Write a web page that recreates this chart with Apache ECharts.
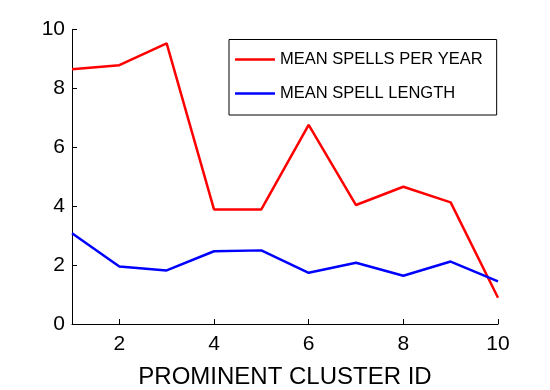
<!DOCTYPE html>
<html>
<head>
<meta charset="utf-8">
<script src="https://cdn.jsdelivr.net/npm/echarts@6/dist/echarts.min.js"></script>
<style>html,body{margin:0;padding:0;background:#fff;}#c{width:550px;height:390px;}</style>
</head>
<body>
<div id="c"></div>
<script>
var clusterIds = [1, 2, 3, 4, 5, 6, 7, 8, 9, 10];
var spellsPerYear = [8.65, 8.79, 9.53, 3.89, 3.89, 6.76, 4.04, 4.66, 4.13, 0.89];
var spellLength = [3.08, 1.95, 1.82, 2.47, 2.50, 1.74, 2.08, 1.64, 2.12, 1.45];
var xTickValues = [2, 4, 6, 8, 10];
var seriesNames = ['MEAN SPELLS PER YEAR', 'MEAN SPELL LENGTH'];
var xAxisTitle = 'PROMINENT CLUSTER ID';

var font = 'Liberation Sans, Arial, Helvetica, sans-serif';
function pairs(ys) { return clusterIds.map(function (x, i) { return [x, ys[i]]; }); }
var lineIcon = 'path://M0,0 L40,0 L40,2.5 L0,2.5 Z';

var chart = echarts.init(document.getElementById('c'), null, { renderer: 'canvas' });
chart.setOption({
  animation: false,
  backgroundColor: '#fff',
  grid: { left: 72, right: 52, top: 29.5, bottom: 66, containLabel: false, outerBoundsMode: 'none' },
  xAxis: {
    type: 'value', min: 1, max: 10,
    name: xAxisTitle, nameLocation: 'middle', nameGap: 41,
    nameTextStyle: { fontFamily: font, fontSize: 24, color: '#000' },
    axisLine: { show: true, lineStyle: { color: '#000', width: 1 } },
    axisTick: { show: true, inside: true, length: 5, customValues: xTickValues, lineStyle: { color: '#000' } },
    axisLabel: { customValues: xTickValues, fontFamily: font, fontSize: 21, color: '#000', margin: 10 },
    splitLine: { show: false }
  },
  yAxis: {
    type: 'value', min: 0, max: 10, interval: 2,
    axisLine: { show: true, lineStyle: { color: '#000', width: 1 } },
    axisTick: { show: true, inside: true, length: 5, lineStyle: { color: '#000' } },
    axisLabel: { fontFamily: font, fontSize: 21, color: '#000', margin: 7 },
    splitLine: { show: false }
  },
  legend: {
    orient: 'vertical', left: 229, top: 39.5,
    itemWidth: 40, itemHeight: 14, itemGap: 17,
    padding: [11.5, 14, 13, 6],
    borderColor: '#000', borderWidth: 1, backgroundColor: '#fff',
    textStyle: { fontFamily: font, fontSize: 16.5, color: '#000' },
    data: [
      { name: seriesNames[0], icon: lineIcon },
      { name: seriesNames[1], icon: lineIcon }
    ]
  },
  series: [
    { name: seriesNames[0], type: 'line', data: pairs(spellsPerYear), symbol: 'none',
      lineStyle: { color: '#ff0000', width: 2.5 }, itemStyle: { color: '#ff0000' } },
    { name: seriesNames[1], type: 'line', data: pairs(spellLength), symbol: 'none',
      lineStyle: { color: '#0000ff', width: 2.5 }, itemStyle: { color: '#0000ff' } }
  ]
});
</script>
</body>
</html>
